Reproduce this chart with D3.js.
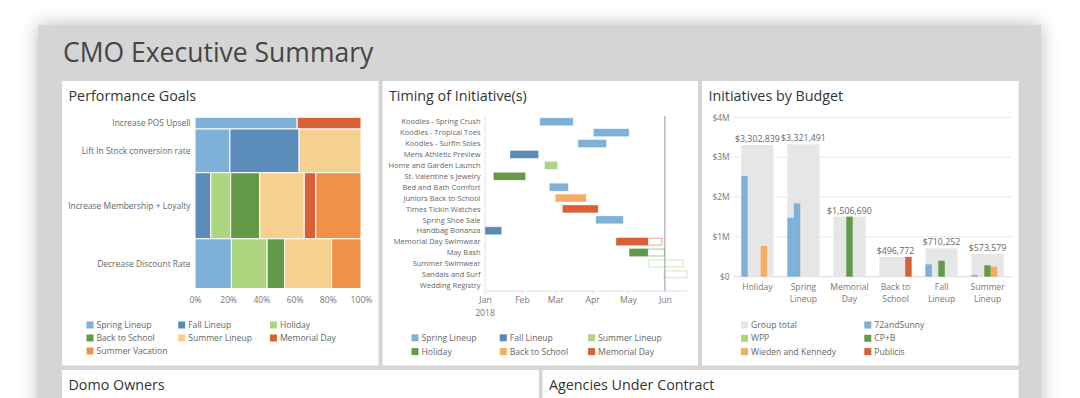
<!DOCTYPE html>
<html><head><meta charset="utf-8">
<script src="https://cdn.jsdelivr.net/npm/d3@7/dist/d3.min.js"></script>
<style>
html,body{margin:0;padding:0;background:#fff;overflow:hidden;}
svg{display:block;font-family:"Open Sans",sans-serif;}
</style></head>
<body><svg id="c" width="1080" height="398"></svg>
<script>
// ---------- DATA ----------
const pageTitle = "CMO Executive Summary";
const panelTitles = ["Performance Goals","Timing of Initiative(s)","Initiatives by Budget","Domo Owners","Agencies Under Contract"];

// Performance Goals (mekko)
const goals = ["Increase POS Upsell","Lift In Stock conversion rate","Increase Membership + Loyalty","Decrease Discount Rate"];
const goalLineups = ["Spring Lineup","Fall Lineup","Holiday","Back to School","Summer Lineup","Memorial Day","Summer Vacation"];
const goalSpring   = [7.2, 9.2, 0, 10.9];
const goalFall     = [0, 18.2, 6.3, 0];
const goalHoliday  = [0, 0, 7.9, 10.7];
const goalBTS      = [0, 0, 11.6, 5.2];
const goalSummer   = [0, 16.3, 17.7, 14.1];
const goalMemorial = [4.5, 0, 4.6, 0];
const goalVacation = [0, 0, 18.0, 8.8];
const goalTicks = [0, 0.2, 0.4, 0.6, 0.8, 1];

// Timing of Initiatives (gantt)
const initiatives = ["Koodles - Spring Crush","Koodles - Tropical Toes","Koodles - Surfin Soles","Mens Athletic Preview","Home and Garden Launch","St. Valentine`s Jewelry","Bed and Bath Comfort","Juniors Back to School","Times Tickin Watches","Spring Shoe Sale","Handbag Bonanza","Memorial Day Swimwear","May Bash","Summer Swimwear","Sandals and Surf","Wedding Registry"];
const initStart = ["2018-02-16","2018-04-02","2018-03-20","2018-01-22","2018-02-20","2018-01-08","2018-02-24","2018-03-01","2018-03-07","2018-04-04","2018-01-01","2018-04-21","2018-05-02","2018-05-18","2018-05-31",null];
const initEnd   = ["2018-03-16","2018-05-02","2018-04-13","2018-02-15","2018-03-03","2018-02-04","2018-03-12","2018-03-27","2018-04-06","2018-04-27","2018-01-15","2018-05-30","2018-06-01","2018-06-17","2018-06-20",null];
const initLineup = ["Spring Lineup","Spring Lineup","Spring Lineup","Fall Lineup","Summer Lineup","Holiday","Spring Lineup","Back to School","Memorial Day","Spring Lineup","Fall Lineup","Memorial Day","Holiday","Summer Lineup","Summer Lineup",null];
const ganttLegend = ["Spring Lineup","Fall Lineup","Summer Lineup","Holiday","Back to School","Memorial Day"];
const ganttDomain = ["2018-01-01","2018-06-20"];
const statusDate = "2018-05-18";
const markerDate = "2018-06-01";
const monthTicks = ["2018-01-01","2018-02-01","2018-03-01","2018-04-01","2018-05-01","2018-06-01"];

// Initiatives by Budget (grouped bars)
const budgetCategories = ["Holiday","Spring Lineup","Memorial Day","Back to School","Fall Lineup","Summer Lineup"];
const groupTotals = [3302839, 3321491, 1506690, 496772, 710252, 573579];
const agencies = ["72andSunny","WPP","CP+B","Wieden and Kennedy","Publicis"];
const sunny72      = [2530000, 1480000, 0, 0, 310000, 40000];
const sunny72Extra = [0, 1840000, 0, 0, 0, 0];
const cpb          = [0, 0, 1506690, 0, 400000, 285000];
const wiedenK      = [770000, 0, 0, 0, 0, 250000];
const publicis     = [0, 0, 0, 496772, 0, 0];
const budgetTicks = [0, 1000000, 2000000, 3000000, 4000000];

// ---------- STYLE ----------
const C = {
  lblue:"#7FB0D8", blue:"#5A8BB9", lgreen:"#ADD47F", green:"#64994A",
  peach:"#F6D08F", red:"#D96036", orange:"#EE924A", lorange:"#F3AE64", gray:"#E6E6E6"
};
const goalColor = {"Spring Lineup":C.lblue,"Fall Lineup":C.blue,"Holiday":C.lgreen,"Back to School":C.green,"Summer Lineup":C.peach,"Memorial Day":C.red,"Summer Vacation":C.orange};
const ganttColor = {"Spring Lineup":C.lblue,"Fall Lineup":C.blue,"Summer Lineup":C.lgreen,"Holiday":C.green,"Back to School":C.lorange,"Memorial Day":C.red};
const agencyColor = {"Group total":C.gray,"72andSunny":C.lblue,"WPP":C.lgreen,"CP+B":C.green,"Wieden and Kennedy":C.lorange,"Publicis":C.red};

const svg = d3.select("#c");
const defs = svg.append("defs");
const f = defs.append("filter").attr("id","sh").attr("x","-10%").attr("y","-20%").attr("width","120%").attr("height","140%");
f.append("feDropShadow").attr("dx",0).attr("dy",0).attr("stdDeviation",9).attr("flood-color","#000").attr("flood-opacity",0.28);

// container
svg.append("rect").attr("x",38).attr("y",25).attr("width",1003).attr("height",420).attr("fill","#D5D5D5").attr("filter","url(#sh)");
svg.append("text").attr("x",63).attr("y",62).attr("font-size",26.5).attr("fill","#454545").text(pageTitle);

const panels = [
  {x:62,y:81,w:316.5,h:284.5},
  {x:382.5,y:81,w:315.5,h:284.5},
  {x:702,y:81,w:316.5,h:284.5},
  {x:62,y:370,w:477,h:60},
  {x:542.5,y:370,w:476,h:60}
];
panels.forEach((p,i)=>{
  svg.append("rect").attr("x",p.x).attr("y",p.y).attr("width",p.w).attr("height",p.h).attr("fill","#fff");
  svg.append("text").attr("x",p.x+6.5).attr("y",p.y+20).attr("font-size",14.3).attr("fill","#333").text(panelTitles[i]);
});

const lblCol = "#666", tickCol = "#777";
function legend(items, colorMap, x0, dx, y0, dy, cols){
  const g = svg.append("g");
  items.forEach((name,i)=>{
    const cx = x0 + (i%cols)*dx, cy = y0 + Math.floor(i/cols)*dy;
    g.append("rect").attr("x",cx).attr("y",cy-3.5).attr("width",7).attr("height",7).attr("fill",colorMap[name]);
    g.append("text").attr("x",cx+10).attr("y",cy+3.1).attr("font-size",8.6).attr("fill",lblCol).text(name);
  });
}

// ---------- MEKKO ----------
(function(){
  const series = [goalSpring,goalFall,goalHoliday,goalBTS,goalSummer,goalMemorial,goalVacation];
  const rows = goals.map((g,ri)=>{
    const vals = series.map(s=>s[ri]);
    return {goal:g, vals, total:d3.sum(vals)};
  });
  const grand = d3.sum(rows, r=>r.total);
  const y = d3.scaleLinear().domain([0,grand]).range([117.3,288.5]);
  const x = d3.scaleLinear().domain([0,1]).range([195,361]);
  const g = svg.append("g");
  let acc = 0;
  rows.forEach(r=>{
    const y0 = acc, y1 = acc + r.total; acc = y1;
    let xa = 0;
    r.vals.forEach((v,si)=>{
      if(!v){return;}
      const f0 = xa/r.total, f1 = (xa+v)/r.total; xa += v;
      g.append("rect").attr("x",x(f0)).attr("y",y(y0)).attr("width",x(f1)-x(f0)).attr("height",y(y1)-y(y0))
        .attr("fill",goalColor[goalLineups[si]]).attr("stroke","#fff").attr("stroke-width",1);
    });
    g.append("text").attr("x",190.5).attr("y",(y(y0)+y(y1))/2+3).attr("text-anchor","end")
      .attr("font-size",8.45).attr("fill",lblCol).text(r.goal);
  });
  const ax = svg.append("g").attr("transform","translate(0,289)")
    .call(d3.axisBottom(x).tickValues(goalTicks).tickFormat(d3.format(".0%")).tickSize(0).tickPadding(8));
  ax.select(".domain").remove();
  ax.selectAll("text").attr("font-size",8.6).attr("fill",tickCol).attr("font-family","Open Sans");
  legend(["Spring Lineup","Fall Lineup","Holiday","Back to School","Summer Lineup","Memorial Day","Summer Vacation"], goalColor, 86.5, 91.7, 325, 13, 3);
})();

// ---------- GANTT ----------
(function(){
  const pd = d3.timeParse("%Y-%m-%d");
  const x = d3.scaleTime().domain(ganttDomain.map(pd)).range([485,687.5]);
  const y = d3.scaleBand().domain(initiatives).range([116.3,290.7]).paddingInner(0.28).paddingOuter(0.14);
  const g = svg.append("g");
  g.append("line").attr("x1",485).attr("x2",485).attr("y1",116).attr("y2",291).attr("stroke","#e2e2e2");
  g.append("line").attr("x1",485).attr("x2",687.5).attr("y1",291).attr("y2",291).attr("stroke","#e2e2e2");
  const status = pd(statusDate);
  initiatives.forEach((name,i)=>{
    g.append("text").attr("x",480.5).attr("y",y(name)+y.bandwidth()/2+2.7).attr("text-anchor","end")
      .attr("font-size",7.5).attr("fill",lblCol).text(name);
    if(!initStart[i]) return;
    const s = pd(initStart[i]), e = pd(initEnd[i]), col = ganttColor[initLineup[i]];
    if(e > status){
      g.append("rect").attr("x",x(s)+0.5).attr("y",y(name)+0.5).attr("width",x(e)-x(s)-1).attr("height",y.bandwidth()-1)
        .attr("fill","#fff").attr("stroke",col).attr("stroke-opacity",0.55).attr("stroke-width",1);
    }
    const fe = e > status ? status : e;
    if(fe > s){
      g.append("rect").attr("x",x(s)).attr("y",y(name)).attr("width",x(fe)-x(s)).attr("height",y.bandwidth())
        .attr("fill",col).attr("stroke","#fff").attr("stroke-opacity",0.5).attr("stroke-width",0.6);
    }
  });
  g.append("line").attr("x1",x(pd(markerDate))).attr("x2",x(pd(markerDate))).attr("y1",116).attr("y2",291)
    .attr("stroke","#9a9a9a").attr("stroke-width",1);
  const ax = svg.append("g").attr("transform","translate(0,291)")
    .call(d3.axisBottom(x).tickValues(monthTicks.map(pd)).tickFormat(d3.timeFormat("%b")).tickSize(3).tickPadding(3));
  ax.select(".domain").remove();
  ax.selectAll("line").attr("stroke","#ddd");
  ax.selectAll("text").attr("font-size",8.6).attr("fill",tickCol).attr("font-family","Open Sans");
  svg.append("text").attr("x",x(pd(monthTicks[0]))).attr("y",316).attr("text-anchor","middle")
    .attr("font-size",8.6).attr("fill",tickCol).text("2018");
  legend(ganttLegend, ganttColor, 411.5, 88.3, 337.8, 13.8, 3);
})();

// ---------- BUDGET BARS ----------
(function(){
  const slots = [["72andSunny",sunny72],["72andSunny",sunny72Extra],["CP+B",cpb],["Wieden and Kennedy",wiedenK],["Publicis",publicis]];
  const slotPos = [0,1,2,3,4];
  const x = d3.scaleBand().domain(budgetCategories).range([733.5,1011.5]).paddingInner(0.3).paddingOuter(0.17);
  const xs = d3.scaleBand().domain(slotPos).range([0,x.bandwidth()]);
  const y = d3.scaleLinear().domain([0,4000000]).range([276.7,117.3]);
  const g = svg.append("g");
  budgetTicks.forEach(t=>{
    g.append("line").attr("x1",733.5).attr("x2",1011.5).attr("y1",y(t)).attr("y2",y(t))
      .attr("stroke", t===0 ? "#d8d8d8" : "#e8e8e8").attr("stroke-width",1);
  });
  const ay = svg.append("g").attr("transform","translate(733.5,0)")
    .call(d3.axisLeft(y).tickValues(budgetTicks).tickFormat(d=> d===0 ? "$0" : "$"+(d/1e6)+"M").tickSize(0).tickPadding(4));
  ay.select(".domain").remove();
  ay.selectAll("text").attr("font-size",8.4).attr("fill",tickCol).attr("font-family","Open Sans");
  budgetCategories.forEach((c,i)=>{
    g.append("rect").attr("x",x(c)).attr("y",y(groupTotals[i])).attr("width",x.bandwidth())
      .attr("height",y(0)-y(groupTotals[i])).attr("fill",C.gray);
    g.append("text").attr("x",x(c)+x.bandwidth()/2).attr("y",y(groupTotals[i])-3).attr("text-anchor","middle")
      .attr("font-size",8.8).attr("fill","#666").text(d3.format("$,")(groupTotals[i]));
    slots.forEach(([ag,vals],si)=>{
      const v = vals[i]; if(!v) return;
      g.append("rect").attr("x",x(c)+xs(slotPos[si])).attr("y",y(v)).attr("width",xs.bandwidth()).attr("height",y(0)-y(v))
        .attr("fill",agencyColor[ag]);
    });
    const k = c.lastIndexOf(" ");
    const lines = k > 0 ? [c.slice(0,k), c.slice(k+1)] : [c];
    lines.forEach((w,wi)=>{
      g.append("text").attr("x",x(c)+x.bandwidth()/2).attr("y",290+wi*12).attr("text-anchor","middle")
        .attr("font-size",8.6).attr("fill",tickCol).text(w);
    });
  });
  legend(["Group total","72andSunny","WPP","CP+B","Wieden and Kennedy","Publicis"], agencyColor, 741, 123.3, 325, 13.3, 2);
})();
</script></body></html>
